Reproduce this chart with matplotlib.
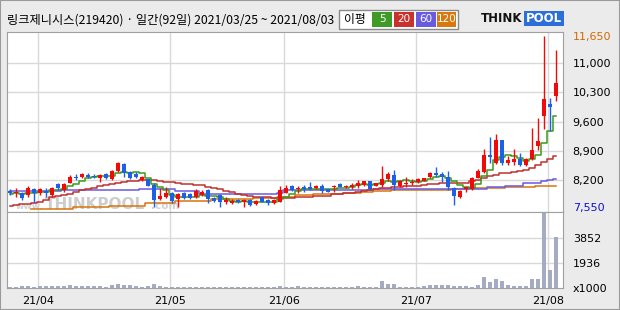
import matplotlib.pyplot as plt
import numpy as np
from matplotlib.patches import Rectangle

# 링크제니시스 일봉 (92일) 2021/03/25 ~ 2021/08/03
opens = [7940, 7885, 7900, 7845, 7980, 7885, 7950, 7845, 8110, 7965,
         8125, 8285, 8270, 8315, 8305, 8245, 8340, 8230, 8425, 8585,
         8400, 8340, 8205, 8220, 8085, 7740, 7805, 7885, 7740, 7885,
         7860, 7805, 7845, 7965, 7765, 7845, 7670, 7645, 7725, 7670,
         7725, 7620, 7790, 7725, 7645, 7685, 7900, 8060, 7990, 8030,
         8030, 8005, 8060, 7980, 8030, 8115, 8045, 8045, 8070, 8085,
         8180, 8070, 8085, 8220, 8325, 8070, 8110, 8140, 8165, 8190,
         8270, 8380, 8345, 8270, 8005, 7790, 7980, 7980, 8260, 8405,
         8800, 8600, 9160, 8600, 8640, 8705, 8560, 8700, 9015, 9740,
         10020, 10200]
highs = [8000, 8020, 7925, 8060, 8020, 8020, 8005, 8030, 8125, 8125,
         8325, 8340, 8380, 8365, 8350, 8350, 8360, 8440, 8640, 8600,
         8430, 8400, 8300, 8240, 8125, 8005, 8045, 7925, 7900, 7920,
         7900, 7990, 7960, 7990, 7790, 7870, 7805, 7740, 7760, 7760,
         7750, 7730, 7800, 7750, 7750, 8070, 8085, 8080, 8060, 8085,
         8160, 8075, 8110, 7990, 8090, 8130, 8090, 8125, 8205, 8190,
         8190, 8140, 8540, 8405, 8445, 8200, 8270, 8220, 8260, 8260,
         8400, 8505, 8405, 8420, 8030, 7965, 8045, 8285, 8460, 8945,
         9240, 9300, 9160, 8775, 8945, 8840, 8720, 9455, 9680, 11650,
         10170, 11300]
lows = [7850, 7805, 7725, 7805, 7645, 7845, 7805, 7805, 7965, 7925,
        8125, 8205, 8245, 8245, 8250, 8150, 8230, 8205, 8385, 8285,
        8240, 8260, 8190, 8050, 7550, 7725, 7765, 7645, 7565, 7740,
        7745, 7765, 7820, 7645, 7680, 7550, 7620, 7620, 7650, 7565,
        7590, 7600, 7670, 7600, 7620, 7670, 7885, 7950, 7900, 7925,
        7965, 7990, 7900, 7910, 7925, 8030, 8005, 7980, 8005, 8070,
        7970, 8060, 8045, 8190, 7965, 8045, 8045, 8085, 8125, 8170,
        8260, 8285, 8165, 7965, 7600, 7780, 7925, 7965, 8245, 8365,
        8620, 8585, 8560, 8560, 8560, 8540, 8550, 8680, 8920, 9420,
        9380, 10100]
closes = [7890, 7925, 7765, 8020, 7900, 7980, 7900, 8005, 8005, 8100,
          8270, 8245, 8350, 8270, 8270, 8325, 8245, 8420, 8600, 8380,
          8260, 8285, 8280, 8060, 7725, 7820, 7900, 7710, 7870, 7765,
          7765, 7950, 7925, 7750, 7700, 7670, 7725, 7700, 7670, 7725,
          7605, 7700, 7685, 7645, 7725, 7965, 8020, 7965, 8020, 7990,
          7990, 8060, 7950, 7925, 8060, 8045, 8070, 8090, 8125, 8180,
          7980, 8125, 8220, 8345, 8085, 8190, 8140, 8165, 8230, 8245,
          8380, 8325, 8285, 8045, 7820, 7950, 8045, 8245, 8425, 8800,
          8755, 9160, 8600, 8680, 8705, 8560, 8705, 8920, 9135, 10150,
          9960, 10530]

# 이동평균
ma5 = [7880, 7890, 7870, 7900, 7900, 7920, 7910, 7960, 7960, 8000,
       8060, 8120, 8190, 8250, 8280, 8290, 8290, 8310, 8370, 8390,
       8380, 8390, 8360, 8250, 8120, 8030, 7960, 7840, 7800, 7810,
       7800, 7810, 7850, 7830, 7820, 7800, 7750, 7710, 7690, 7700,
       7680, 7680, 7680, 7670, 7670, 7740, 7810, 7860, 7940, 7990,
       8000, 8000, 8000, 7980, 8000, 8010, 8010, 8040, 8080, 8100,
       8090, 8100, 8130, 8170, 8150, 8190, 8200, 8180, 8160, 8190,
       8230, 8270, 8290, 8260, 8170, 8080, 8030, 8020, 8100, 8290,
       8450, 8680, 8750, 8800, 8780, 8740, 8650, 8710, 8800, 9100,
       9370, 9740]
ma20 = [7580, 7600, 7620, 7640, 7660, 7690, 7730, 7790, 7820, 7850,
        7880, 7920, 7960, 7990, 8020, 8060, 8090, 8110, 8130, 8150,
        8170, 8185, 8195, 8205, 8200, 8185, 8165, 8150, 8130, 8110,
        8110, 8095, 8075, 8040, 8010, 7990, 7950, 7910, 7870, 7850,
        7830, 7810, 7800, 7790, 7785, 7780, 7775, 7780, 7790, 7800,
        7810, 7815, 7820, 7830, 7860, 7870, 7890, 7900, 7910, 7950,
        7960, 7990, 8010, 8020, 8030, 8040, 8050, 8060, 8070, 8080,
        8100, 8120, 8130, 8130, 8130, 8130, 8140, 8170, 8200, 8250,
        8300, 8330, 8360, 8380, 8400, 8420, 8450, 8490, 8570, 8640,
        8700, 8780]
ma60 = [7940, 7940, 7940, 7940, 7940, 7940, 7940, 7940, 7940, 7965,
        7965, 7965, 7965, 7965, 7965, 7965, 7965, 7965, 7965, 7965,
        7965, 7965, 7990, 7990, 7990, 7990, 7990, 7990, 7950, 7950,
        7950, 7950, 7870, 7870, 7870, 7870, 7870, 7870, 7870, 7870,
        7870, 7870, 7870, 7870, 7870, 7900, 7960, 7960, 7960, 7960,
        7960, 7960, 7960, 7960, 7960, 7960, 7960, 7960, 7960, 7960,
        7960, 8000, 8000, 8000, 8000, 8000, 8000, 8000, 8000, 8000,
        8000, 8000, 8000, 8000, 8000, 8000, 8000, 8000, 8000, 8000,
        8030, 8030, 8030, 8070, 8070, 8070, 8125, 8125, 8125, 8180,
        8210, 8240]
ma120 = [np.nan, np.nan, np.nan, np.nan, 7520, 7520, 7520, 7520, 7520, 7520,
         7520, 7550, 7550, 7550, 7550, 7550, 7550, 7580, 7580, 7580,
         7580, 7580, 7580, 7660, 7660, 7660, 7660, 7660, 7700, 7700,
         7700, 7700, 7700, 7700, 7750, 7750, 7750, 7750, 7750, 7750,
         7750, 7770, 7770, 7770, 7770, 7800, 7800, 7800, 7845, 7845,
         7845, 7870, 7870, 7870, 7870, 7870, 7900, 7900, 7900, 7925,
         7925, 7950, 7950, 7950, 7965, 7965, 7965, 7965, 7965, 7965,
         7975, 7975, 7975, 7975, 7985, 7985, 7985, 8005, 8005, 8005,
         8005, 8005, 8005, 8030, 8030, 8030, 8030, 8030, 8070, 8070,
         8070, 8070]

# 거래량 (천주)
volume = [100, 110, 180, 170, 100, 140, 150, 150, 150, 140,
          260, 190, 180, 190, 130, 120, 110, 260, 270, 210,
          200, 130, 110, 120, 270, 190, 80, 70, 70, 60,
          70, 60, 60, 70, 60, 80, 60, 60, 70, 60,
          60, 70, 60, 60, 70, 180, 80, 70, 150, 90,
          80, 70, 70, 60, 60, 70, 60, 70, 150, 90,
          90, 90, 500, 300, 340, 80, 70, 70, 60, 180,
          210, 260, 210, 260, 180, 130, 150, 100, 260, 810,
          450, 650, 500, 240, 180, 180, 180, 650, 650, 5750,
          1360, 3930]

month_idx = [5, 27, 46, 68, 90]
month_lbl = ['21/04', '21/05', '21/06', '21/07', '21/08']
price_grid = [8200, 8900, 9600, 10300, 11000]
price_ticks = [7550, 8200, 8900, 9600, 10300, 11000, 11650]
vol_ticks = [0, 1936, 3852]

opens = np.array(opens)
highs = np.array(highs)
lows = np.array(lows)
closes = np.array(closes)
x = np.arange(len(closes))
col = np.where(closes >= opens, '#f00a0a', '#1f5fe6')

fig = plt.figure(figsize=(6.2, 3.1), dpi=100, facecolor='#ebebeb')
ax = fig.add_axes([7/620, 1 - 212/310, 556/620, 180/310])
axv = fig.add_axes([7/620, 1 - 288/310, 556/620, 76/310])

for a in (ax, axv):
    a.set_facecolor('white')
    a.set_xlim(-0.5, 92.2)
    for s in a.spines.values():
        s.set_color('#a0a0a0')
    for m in month_idx:
        a.axvline(m - 0.35, color='#d9d9d9', lw=1, zorder=0)

# 가격 차트
for g in price_grid:
    ax.axhline(g, color='#d9d9d9', lw=1, zorder=0)
# 워터마크
ax.text(1.0, 7520, 'www.', color='#d2d2d2', fontsize=6.5, fontweight='bold', zorder=1)
ax.text(5.8, 7500, 'THINKPOOL', color='#cdcdcd', fontsize=11, fontweight='bold', zorder=1)
ax.text(23.5, 7520, '.com', color='#d2d2d2', fontsize=7.5, fontweight='bold', zorder=1)

ax.plot(x, ma120, color='#d8740c', lw=1.1, drawstyle='steps-mid', zorder=2)
ax.plot(x, ma60, color='#6a5ae0', lw=1.1, drawstyle='steps-mid', zorder=2)
ax.plot(x, ma20, color='#c03030', lw=1.1, drawstyle='steps-mid', zorder=2)
ax.plot(x, ma5, color='#3a9a1a', lw=1.1, drawstyle='steps-mid', zorder=2)

ax.vlines(x, lows, highs, colors=col, lw=1, zorder=3)
ax.bar(x, np.maximum(np.abs(closes - opens), 15), bottom=np.minimum(opens, closes),
       width=0.7, color=col, zorder=4)

ax.set_ylim(7440, 11740)
ax.set_xticks([])
ax.yaxis.tick_right()
ax.set_yticks(price_ticks)
ax.set_yticklabels([f'{v:,}' for v in price_ticks])
ax.tick_params(axis='y', length=0, pad=7, labelsize=8)
lbls = ax.get_yticklabels()
lbls[0].set_color('#1010d0')
lbls[-1].set_color('#d06a00')

# 거래량
for g in vol_ticks[1:]:
    axv.axhline(g, color='#d9d9d9', lw=1, zorder=0)
axv.bar(x, volume, width=0.72, color='#a4abc2', zorder=2)
axv.set_ylim(0, 5800)
axv.yaxis.tick_right()
axv.set_yticks(vol_ticks)
axv.set_yticklabels(['x1000', '1936', '3852'])
axv.tick_params(axis='y', length=0, pad=7, labelsize=8)
axv.set_xticks([m - 0.35 for m in month_idx])
axv.set_xticklabels(month_lbl)
axv.tick_params(axis='x', length=0, pad=6, labelsize=8)

# 제목줄
kfont = ['Noto Sans CJK KR', 'DejaVu Sans']
fig.text(7/620, 1 - 20/310, '링크제니시스(219420) · 일간(92일) 2021/03/25 ~ 2021/08/03',
         family=kfont, fontsize=8.8, va='center', ha='left')

fig.patches.append(Rectangle((339/620, 1 - 29/310), 119/620, 19/310, transform=fig.transFigure,
                             facecolor='white', edgecolor='#8a8a8a', lw=1))
fig.text(344/620, 1 - 19.5/310, '이평', family=kfont, fontsize=8.5, va='center', ha='left')
legend_items = [('5', '#3f9a28', 372, 20), ('20', '#c8322c', 394, 20),
                ('60', '#6a5ae0', 416, 20), ('120', '#d8780e', 437, 19)]
for lab, c, x0, w in legend_items:
    fig.patches.append(Rectangle((x0/620, 1 - 27/310), w/620, 15/310, transform=fig.transFigure,
                                 facecolor=c, edgecolor='none'))
    fig.text((x0 + w/2)/620, 1 - 19.5/310, lab, color='white', fontsize=7.5,
             va='center', ha='center')

fig.text(481/620, 1 - 19/310, 'THINK', fontsize=8.5, fontweight='bold', color='#111111',
         va='center', ha='left')
fig.patches.append(Rectangle((524/620, 1 - 26/310), 40/620, 15/310, transform=fig.transFigure,
                             facecolor='#2d6fd8', edgecolor='none'))
fig.text(544/620, 1 - 19/310, 'POOL', fontsize=8.5, fontweight='bold', color='white',
         va='center', ha='center')

fig.patches.append(Rectangle((0, 0), 1, 1, transform=fig.transFigure, fill=False,
                             edgecolor='#9a9a9a', lw=1.5))

fig.savefig('out.png', dpi=100, facecolor=fig.get_facecolor())
